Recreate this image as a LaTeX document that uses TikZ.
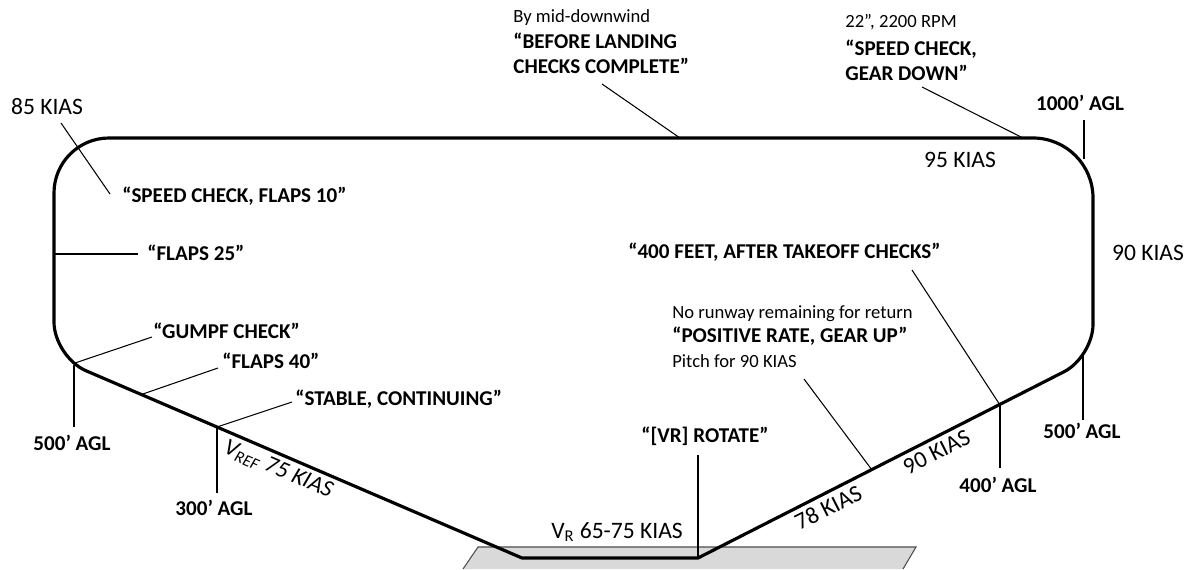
\documentclass[tikz,border=0pt]{standalone}
\usepackage{fontspec}
\setmainfont{Carlito}
\usetikzlibrary{positioning}

\begin{document}
\begin{tikzpicture}[
    x=0.02cm,
    y=-0.02cm,
    track/.style={
        line width=1.8pt,
        line join=round
    },
    leader/.style={
        line width=0.6pt
    },
    callout/.style={
        inner sep=0pt,
        align=left,
        font=\fontsize{12}{14.2}\selectfont\bfseries
    },
    note/.style={
        inner sep=0pt,
        font=\fontsize{10.6}{12.5}\selectfont
    },
    speed/.style={
        inner sep=0pt,
        font=\fontsize{13.4}{15}\selectfont
    }
]
\useasboundingbox (0,0) rectangle (1198,569);

% runway
\fill[black!15] (463,569) -- (478,547) -- (916,547) -- (903,569) -- cycle;
\draw[black!70, line width=0.6pt] (463,569) -- (478,547) -- (916,547) -- (903,569);

% circuit
\coordinate (td) at (522,558);
\coordinate (lo) at (698,558);
\coordinate (base) at (54,357);
\coordinate (dwl) at (54,138);
\coordinate (dwr) at (1093,138);
\coordinate (xw) at (1093,357);

\draw[track] (td) [rounded corners=0.7cm] -- (base)
    [rounded corners=1.1cm] -- (dwl) [rounded corners=1.2cm] -- (dwr)
    [rounded corners=0.65cm] -- (xw) [sharp corners] -- (lo) -- cycle;

% points on the circuit
\coordinate (p500l) at (74,365);
\coordinate (pgumpf) at (75,363);
\coordinate (pflaps40) at (140,395);
\coordinate (p300) at (217,427);
\coordinate (pflaps25) at (54,254);
\coordinate (p400) at (1000,405);
\coordinate (pgear) at (872,470);
\coordinate (p500r) at (1083,355);
\coordinate (p1000) at (1084,159);
\coordinate (pbefore) at (680,138);
\coordinate (pspeed) at (1023,138);

% downwind
\node[note, anchor=base west] (bymid) at (513,22) {By mid-downwind};
\node[callout, anchor=north west] (before) at (513,33) {“BEFORE LANDING\\CHECKS COMPLETE”};
\node[note, anchor=base west] (rpm) at (845,27) {22”, 2200 RPM};
\node[callout, anchor=north west] (geardown) at (845,40) {“SPEED CHECK,\\GEAR DOWN”};
\node[callout, anchor=base] (agl1000) at (1080,110) {1000’ AGL};
\node[speed, anchor=base] (kias95) at (960,167) {95 KIAS};
\node[speed, anchor=base] (kias90) at (1148,260) {90 KIAS};

\coordinate (before_end) at (602,84);
\coordinate (gear_end) at (922,87);
\coordinate (agl1000_end) at (1084,120);
\draw[leader] (before_end) -- (pbefore);
\draw[leader] (gear_end) -- (pspeed);
\draw[leader] (agl1000_end) -- (p1000);

% base and final
\node[speed, anchor=base] (kias85) at (47,114) {85 KIAS};
\node[callout, anchor=base west] (flaps10) at (122,202) {“SPEED CHECK, FLAPS 10”};
\node[callout, anchor=base west] (flaps25) at (147,260) {“FLAPS 25”};
\node[callout, anchor=base west] (gumpf) at (153,338) {“GUMPF CHECK”};
\node[callout, anchor=base west] (flaps40) at (222,368) {“FLAPS 40”};
\node[callout, anchor=base west] (stable) at (295,405) {“STABLE, CONTINUING”};
\node[callout, anchor=base] (agl500l) at (72,450) {500’ AGL};
\node[callout, anchor=base] (agl300) at (214,515) {300’ AGL};

\coordinate (kias85_a) at (61,123);
\coordinate (kias85_b) at (110,194);
\coordinate (flaps25_end) at (138,254);
\coordinate (gumpf_end) at (152,337);
\coordinate (flaps40_end) at (218,368);
\coordinate (stable_end) at (292,402);
\coordinate (agl500l_end) at (74,427);
\coordinate (agl300_end) at (217,493);
\draw[leader] (kias85_a) -- (kias85_b);
\draw[leader] (pflaps25) -- (flaps25_end);
\draw[leader] (pgumpf) -- (gumpf_end);
\draw[leader] (pflaps40) -- (flaps40_end);
\draw[leader] (p300) -- (stable_end);
\draw[leader] (p500l) -- (agl500l_end);
\draw[leader] (p300) -- (agl300_end);

\path (p300) -- (td) node[speed, sloped, below=3pt, pos=0.22] (vref) {\itshape V\textsubscript{REF} 75 KIAS};

% takeoff and climb
\node[speed, anchor=base] (vr) at (617,538) {V\textsubscript{R} 65-75 KIAS};
\node[callout, anchor=base] (rotate) at (705,442) {“[VR] ROTATE”};
\node[note, anchor=base west] (norunway) at (672,318) {No runway remaining for return};
\node[callout, anchor=base west] (gearup) at (672,342) {“POSITIVE RATE, GEAR UP”};
\node[note, anchor=base west] (pitch) at (672,367) {Pitch for 90 KIAS};
\node[callout, anchor=base west] (takeoff) at (628,258) {“400 FEET, AFTER TAKEOFF CHECKS”};
\node[callout, anchor=base] (agl400) at (998,492) {400’ AGL};
\node[callout, anchor=base] (agl500r) at (1082,438) {500’ AGL};

\path (lo) -- (p400) node[speed, sloped, below=3pt, pos=0.41] (kias78) {78 KIAS};
\path (lo) -- (p400) node[speed, sloped, below=3pt, pos=0.77] (kias90c) {90 KIAS};

\coordinate (rotate_end) at (698,455);
\coordinate (gearup_end) at (804,379);
\coordinate (takeoff_end) at (912,270);
\coordinate (agl400_end) at (1000,468);
\coordinate (agl500r_end) at (1083,420);
\draw[leader] (rotate_end) -- (lo);
\draw[leader] (gearup_end) -- (pgear);
\draw[leader] (takeoff_end) -- (p400);
\draw[leader] (p400) -- (agl400_end);
\draw[leader] (p500r) -- (agl500r_end);

\end{tikzpicture}
\end{document}
